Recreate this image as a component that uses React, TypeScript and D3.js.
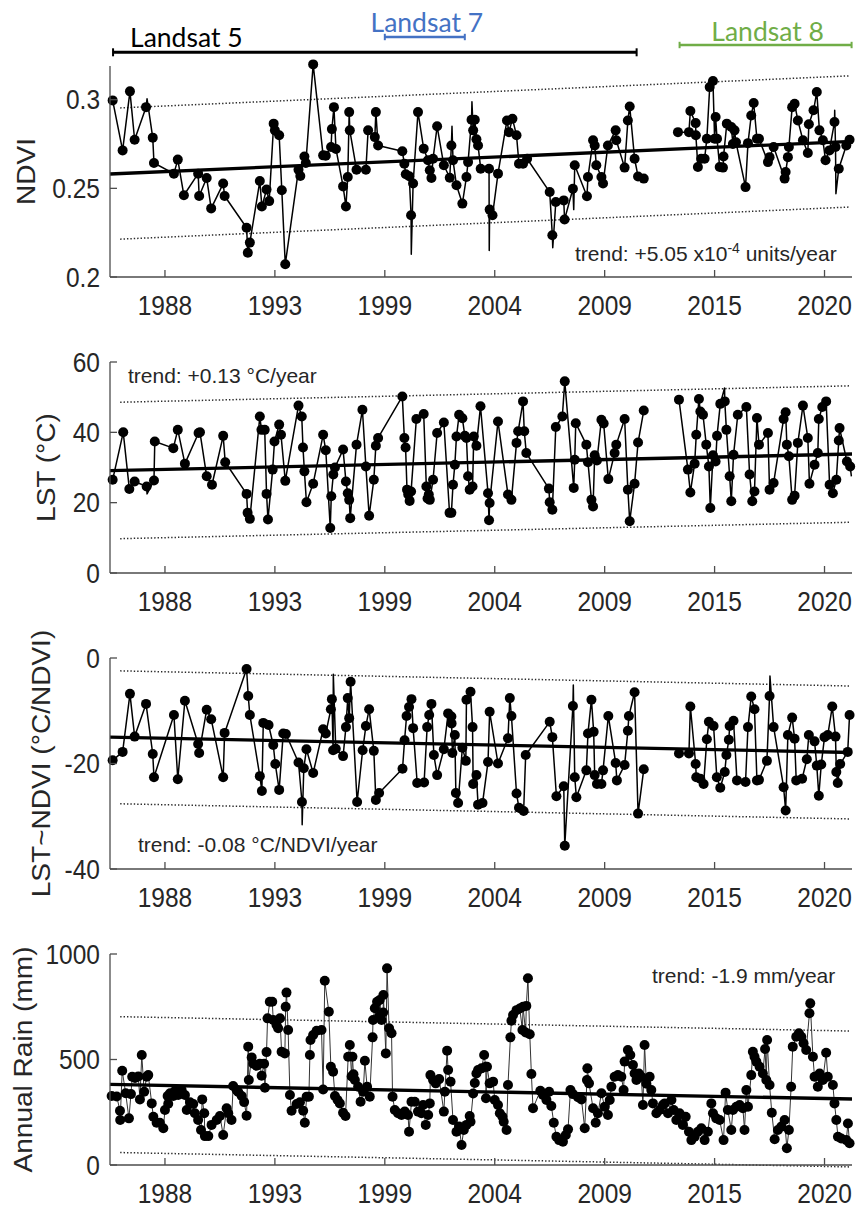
import React from "react";
import * as d3 from "d3";

type Pt = [number, number];

// ---------- shared time axis (decimal years) ----------
const yearDomain: [number, number] = [1985.6, 2022.05];
const yearTicks = [1988.3, 1993.7, 1999.1, 2004.5, 2009.9, 2015.3, 2020.7];
const yearTickLabels = ["1988", "1993", "1999", "2004", "2009", "2015", "2020"];
// Landsat 5 and Landsat 8 records are not joined across this year
const sensorGapYear = 2012.5;

// ---------- sensor coverage ----------
const missionNames = ["Landsat 5", "Landsat 7", "Landsat 8"];
const missionStart = [1985.75, 1999.1, 2013.58];
const missionEnd = [2011.47, 2003.03, 2022.03];
const missionColors = ["#000000", "#4472C4", "#70AD47"];

// ---------- NDVI ----------
const ndviDomain: [number, number] = [0.2, 0.319];
const ndviTicks = [0.2, 0.25, 0.3];
const ndviPoints: Pt[] = [
  [1985.73, 0.2996], [1986.22, 0.2714], [1986.58, 0.3047], [1986.81, 0.2774], [1987.37, 0.2958],
  [1987.7, 0.2786], [1987.76, 0.2643], [1988.74, 0.2583], [1988.93, 0.2662], [1989.23, 0.2461],
  [1989.93, 0.2583], [1989.98, 0.2457], [1990.35, 0.2558], [1990.57, 0.2387], [1991.16, 0.2527],
  [1991.23, 0.2457], [1992.31, 0.2278], [1992.37, 0.2137], [1992.47, 0.2194], [1992.96, 0.2541],
  [1993.06, 0.2398], [1993.29, 0.2493], [1993.42, 0.2428], [1993.64, 0.2865], [1993.7, 0.2827],
  [1993.91, 0.2799], [1994.04, 0.2489], [1994.21, 0.2072], [1994.86, 0.2605], [1994.95, 0.257],
  [1995.15, 0.268], [1995.22, 0.2643], [1995.58, 0.3199], [1996.07, 0.2686], [1996.2, 0.2684],
  [1996.46, 0.2733], [1996.5, 0.2834], [1996.6, 0.2958], [1996.7, 0.2722], [1997.05, 0.2511],
  [1997.19, 0.2398], [1997.28, 0.2564], [1997.35, 0.293], [1997.38, 0.2827], [1997.71, 0.2605],
  [1998.17, 0.2605], [1998.28, 0.2827], [1998.61, 0.2789], [1998.66, 0.293], [1998.77, 0.2742],
  [1999.96, 0.2709], [2000.06, 0.2639], [2000.13, 0.2579], [2000.3, 0.2568], [2000.39, 0.2348],
  [2000.49, 0.2527], [2000.73, 0.293], [2001.01, 0.2724], [2001.22, 0.2658], [2001.31, 0.2602],
  [2001.39, 0.2558], [2001.47, 0.2667], [2001.67, 0.285], [2002.0, 0.263], [2002.29, 0.256],
  [2002.37, 0.2742], [2002.45, 0.2658], [2002.62, 0.2517], [2002.91, 0.2414], [2003.11, 0.2564],
  [2003.19, 0.2648], [2003.36, 0.2887], [2003.44, 0.2827], [2003.52, 0.2887], [2003.6, 0.2777],
  [2003.68, 0.2742], [2003.81, 0.2611], [2004.22, 0.2611], [2004.25, 0.238], [2004.39, 0.2348],
  [2004.66, 0.2583], [2005.1, 0.2883], [2005.2, 0.2817], [2005.37, 0.2893], [2005.57, 0.2799],
  [2005.69, 0.2639], [2005.89, 0.2639], [2006.09, 0.2667], [2007.2, 0.2479], [2007.33, 0.2235],
  [2007.5, 0.2423], [2007.89, 0.2432], [2007.93, 0.2324], [2008.34, 0.2498], [2008.43, 0.263],
  [2009.03, 0.2455], [2009.08, 0.2564], [2009.33, 0.2771], [2009.41, 0.2742], [2009.49, 0.263],
  [2009.74, 0.2564], [2009.82, 0.2527], [2010.06, 0.2742], [2010.44, 0.2827], [2010.47, 0.2771],
  [2010.88, 0.2617], [2011.04, 0.2883], [2011.13, 0.2962], [2011.37, 0.2667], [2011.54, 0.2567],
  [2011.82, 0.2555],
  [2013.5, 0.2817], [2014.04, 0.2817], [2014.11, 0.2936], [2014.37, 0.2868], [2014.38, 0.2799],
  [2014.48, 0.262], [2014.64, 0.2667], [2014.81, 0.2667], [2014.92, 0.278], [2015.06, 0.3071],
  [2015.22, 0.3105], [2015.3, 0.278], [2015.35, 0.2902], [2015.42, 0.278], [2015.55, 0.262],
  [2015.71, 0.2617], [2015.74, 0.268], [2015.9, 0.2865], [2016.12, 0.2846], [2016.2, 0.275],
  [2016.28, 0.2827], [2016.35, 0.276], [2016.82, 0.2507], [2016.94, 0.2755], [2017.1, 0.2911],
  [2017.22, 0.2981], [2017.38, 0.278], [2017.48, 0.278], [2017.92, 0.2648], [2018.0, 0.2676],
  [2018.2, 0.2733], [2018.74, 0.2555], [2018.79, 0.2592], [2018.9, 0.2676], [2018.95, 0.2733],
  [2019.11, 0.2958], [2019.23, 0.2977], [2019.39, 0.2883], [2019.64, 0.2771], [2019.88, 0.2699],
  [2019.93, 0.2861], [2020.16, 0.294], [2020.32, 0.3043], [2020.45, 0.2827], [2020.62, 0.2771],
  [2020.75, 0.2658], [2020.94, 0.2714], [2021.19, 0.2874], [2021.24, 0.2733], [2021.4, 0.2611],
  [2021.77, 0.2742], [2021.93, 0.2774],
];
// line vertices without a marker (short-lived excursions)
const ndviSpikes: Pt[] = [
  [1987.42, 0.3005], [2000.4, 0.2128], [2002.4, 0.285], [2003.38, 0.2988], [2004.23, 0.215],
  [2007.35, 0.2165], [2008.38, 0.238], [2021.2, 0.294], [2021.26, 0.247],
];
const ndviTrend = { start: 0.2581, slope: 5.05e-4, band: 0.037 };

// ---------- LST ----------
const lstDomain: [number, number] = [0, 60];
const lstTicks = [0, 20, 40, 60];
const lstPoints: Pt[] = [
  [1985.73, 26.5], [1986.25, 40.0], [1986.55, 23.9], [1986.81, 26.0], [1987.4, 24.6],
  [1987.76, 26.3], [1987.8, 37.4], [1988.71, 35.5], [1988.93, 40.7], [1989.28, 31.1],
  [1989.95, 39.8], [1990.02, 40.0], [1990.35, 27.5], [1990.61, 25.1], [1991.16, 39.0],
  [1991.26, 31.5], [1992.31, 22.5], [1992.36, 17.1], [1992.47, 15.4], [1992.96, 44.5],
  [1993.04, 40.7], [1993.2, 40.7], [1993.29, 22.5], [1993.36, 15.2], [1993.59, 29.4],
  [1993.68, 37.4], [1993.91, 42.2], [1994.0, 39.3], [1994.21, 26.2], [1994.86, 47.6],
  [1995.02, 44.5], [1995.08, 35.7], [1995.15, 28.9], [1995.25, 20.1], [1995.58, 25.4],
  [1996.07, 39.3], [1996.2, 34.9], [1996.42, 12.8], [1996.47, 21.8], [1996.57, 28.0],
  [1996.65, 30.0], [1997.05, 35.1], [1997.19, 26.0], [1997.28, 22.7], [1997.35, 20.8],
  [1997.4, 15.6], [1997.71, 36.5], [1998.0, 46.4], [1998.17, 30.3], [1998.33, 16.3],
  [1998.56, 26.5], [1998.66, 36.2], [1998.77, 38.4], [1999.96, 50.2], [2000.06, 38.4],
  [2000.12, 35.7], [2000.19, 23.7], [2000.25, 22.3], [2000.32, 20.5], [2000.39, 23.2],
  [2000.65, 43.8], [2001.01, 45.2], [2001.14, 24.6], [2001.2, 21.2], [2001.26, 22.3],
  [2001.31, 20.8], [2001.47, 26.5], [2001.67, 39.8], [2002.0, 42.8], [2002.28, 17.1],
  [2002.37, 17.1], [2002.45, 25.1], [2002.54, 30.8], [2002.62, 38.8], [2002.75, 45.0],
  [2002.91, 44.0], [2003.03, 39.0], [2003.11, 38.4], [2003.19, 27.5], [2003.27, 23.7],
  [2003.41, 24.6], [2003.47, 38.8], [2003.6, 36.2], [2003.8, 47.4], [2004.17, 22.7],
  [2004.22, 15.0], [2004.25, 19.9], [2004.66, 43.1], [2005.15, 22.3], [2005.32, 20.8],
  [2005.57, 37.0], [2005.65, 40.3], [2005.89, 48.8], [2005.95, 40.3], [2006.05, 34.1],
  [2007.16, 24.0], [2007.2, 20.1], [2007.33, 18.0], [2007.5, 41.5], [2007.82, 44.5],
  [2007.94, 54.5], [2008.38, 24.2], [2008.43, 32.2], [2008.48, 42.6], [2009.0, 36.5],
  [2009.08, 31.5], [2009.25, 20.8], [2009.33, 18.9], [2009.41, 33.5], [2009.52, 32.0],
  [2009.74, 43.6], [2009.85, 42.5], [2010.08, 26.7], [2010.39, 34.1], [2010.47, 36.5],
  [2010.88, 43.8], [2011.04, 23.7], [2011.13, 14.7], [2011.37, 25.4], [2011.54, 37.1],
  [2011.82, 46.2],
  [2013.55, 49.3], [2013.99, 29.4], [2014.11, 22.9], [2014.32, 31.1], [2014.4, 39.3],
  [2014.53, 49.5], [2014.6, 45.9], [2014.73, 45.0], [2014.89, 36.5], [2015.02, 30.3],
  [2015.09, 18.5], [2015.22, 33.5], [2015.35, 31.7], [2015.42, 39.0], [2015.58, 48.1],
  [2015.8, 48.8], [2015.88, 40.7], [2016.04, 27.5], [2016.12, 20.4], [2016.23, 33.6],
  [2016.44, 45.0], [2016.86, 47.2], [2017.02, 28.0], [2017.15, 20.4], [2017.26, 23.2],
  [2017.38, 44.1], [2017.48, 36.5], [2017.92, 39.8], [2018.0, 23.7], [2018.2, 25.6],
  [2018.69, 43.8], [2018.79, 45.7], [2018.85, 36.5], [2018.95, 33.2], [2019.11, 20.8],
  [2019.23, 22.0], [2019.39, 37.0], [2019.64, 47.6], [2019.88, 38.4], [2019.96, 25.4],
  [2020.21, 30.8], [2020.37, 34.1], [2020.42, 43.8], [2020.59, 47.2], [2020.78, 48.8],
  [2020.95, 25.1], [2021.11, 22.7], [2021.28, 26.5], [2021.4, 37.7], [2021.44, 41.2],
  [2021.8, 31.7], [2021.96, 30.3],
];
const lstSpikes: Pt[] = [[1987.42, 22.5], [2015.79, 52.6], [2022.02, 27.5]];
const lstTrend = { start: 29.1, slope: 0.13, band: 19.4 };

// ---------- LST~NDVI ----------
const slopeDomain: [number, number] = [-40, 0];
const slopeTicks = [-40, -20, 0];
const slopePoints: Pt[] = [
  [1985.73, -19.4], [1986.22, -17.8], [1986.58, -6.8], [1986.81, -14.9], [1987.37, -8.7],
  [1987.7, -18.2], [1987.76, -22.6], [1988.74, -10.8], [1988.93, -23.0], [1989.28, -8.1],
  [1989.93, -16.3], [1989.98, -18.0], [1990.35, -9.8], [1990.57, -11.6], [1991.16, -22.6],
  [1991.23, -14.2], [1992.31, -2.1], [1992.39, -7.2], [1992.47, -10.8], [1992.96, -22.4],
  [1993.06, -25.2], [1993.13, -12.3], [1993.39, -12.7], [1993.62, -16.5], [1993.72, -20.1],
  [1993.91, -25.0], [1994.11, -14.3], [1994.24, -14.4], [1994.86, -19.8], [1995.03, -27.3],
  [1995.12, -20.9], [1995.25, -17.3], [1995.58, -21.8], [1996.07, -13.5], [1996.2, -14.3],
  [1996.45, -9.7], [1996.5, -7.8], [1996.56, -17.5], [1996.69, -17.2], [1997.05, -18.6],
  [1997.19, -13.1], [1997.28, -7.6], [1997.35, -11.4], [1997.42, -4.5], [1997.74, -27.3],
  [1998.01, -17.5], [1998.17, -12.9], [1998.33, -9.7], [1998.56, -17.6], [1998.66, -26.9],
  [1998.82, -25.6], [1999.97, -21.0], [2000.07, -15.6], [2000.17, -11.0], [2000.29, -9.3],
  [2000.41, -7.8], [2000.49, -13.3], [2000.69, -23.7], [2001.03, -23.6], [2001.18, -13.1],
  [2001.28, -10.8], [2001.39, -8.7], [2001.51, -18.4], [2001.67, -22.2], [2002.0, -17.3],
  [2002.21, -10.5], [2002.37, -11.1], [2002.38, -12.4], [2002.42, -18.0], [2002.54, -14.6],
  [2002.59, -25.6], [2002.7, -27.5], [2002.91, -17.0], [2003.08, -19.5], [2003.11, -7.9],
  [2003.31, -6.4], [2003.41, -13.1], [2003.44, -23.9], [2003.6, -22.2], [2003.68, -27.8],
  [2003.9, -27.5], [2004.17, -19.7], [2004.25, -10.2], [2004.66, -20.0], [2005.15, -15.2],
  [2005.24, -7.6], [2005.32, -11.0], [2005.57, -25.7], [2005.69, -28.4], [2005.92, -29.0],
  [2006.02, -18.4], [2007.2, -12.1], [2007.33, -15.0], [2007.53, -26.2], [2007.89, -24.3],
  [2007.94, -35.6], [2008.34, -9.1], [2008.43, -22.6], [2008.51, -26.4], [2009.0, -21.3],
  [2009.08, -14.3], [2009.25, -7.9], [2009.36, -14.0], [2009.41, -22.2], [2009.52, -23.9],
  [2009.74, -23.9], [2009.82, -21.3], [2010.08, -11.0], [2010.44, -19.9], [2010.5, -23.2],
  [2010.88, -20.3], [2011.04, -13.8], [2011.09, -11.0], [2011.37, -6.5], [2011.54, -29.5],
  [2011.82, -21.1],
  [2013.55, -18.1], [2014.04, -18.1], [2014.11, -9.2], [2014.37, -20.1], [2014.4, -22.6],
  [2014.6, -22.9], [2014.76, -23.9], [2014.92, -15.4], [2015.02, -12.1], [2015.25, -12.9],
  [2015.41, -22.6], [2015.58, -24.6], [2015.8, -21.6], [2015.88, -18.4], [2016.0, -15.5],
  [2016.04, -12.9], [2016.23, -11.9], [2016.4, -23.2], [2016.82, -23.5], [2016.94, -13.1],
  [2017.1, -7.3], [2017.26, -9.7], [2017.38, -23.2], [2017.48, -23.1], [2017.87, -19.5],
  [2018.0, -7.2], [2018.2, -13.1], [2018.69, -24.5], [2018.79, -28.9], [2018.9, -14.6],
  [2019.11, -11.3], [2019.23, -15.3], [2019.31, -23.2], [2019.6, -22.9], [2019.83, -19.2],
  [2019.93, -14.6], [2020.21, -15.8], [2020.32, -20.4], [2020.42, -26.1], [2020.54, -20.2],
  [2020.7, -15.0], [2020.86, -14.6], [2021.08, -9.2], [2021.24, -14.9], [2021.28, -21.6],
  [2021.35, -23.7], [2021.47, -20.1], [2021.84, -17.8], [2021.93, -10.8],
];
const slopeSpikes: Pt[] = [[1995.04, -31.6], [1996.57, -3.1], [2008.36, -5.1], [2018.02, -3.4]];
const slopeTrend = { start: -15.0, slope: -0.08, band: 12.6 };

// ---------- annual rainfall ----------
const rainDomain: [number, number] = [0, 1000];
const rainTicks = [0, 500, 1000];
const rainPoints: Pt[] = [
  [1985.68, 327], [1985.93, 325], [1986.09, 257], [1986.1, 213], [1986.2, 447], [1986.37, 340],
  [1986.53, 221], [1986.63, 336], [1986.69, 418], [1986.83, 412], [1986.99, 420], [1987.07, 311],
  [1987.16, 521], [1987.28, 347], [1987.4, 418], [1987.48, 426], [1987.65, 292], [1987.73, 229],
  [1987.89, 200], [1988.05, 200], [1988.22, 174], [1988.3, 261], [1988.43, 327], [1988.46, 290],
  [1988.55, 340], [1988.71, 327], [1988.79, 350], [1988.95, 332], [1989.12, 355], [1989.28, 332],
  [1989.37, 261], [1989.53, 297], [1989.69, 289], [1989.77, 245], [1989.93, 213], [1990.07, 166],
  [1990.13, 311], [1990.23, 245], [1990.26, 137], [1990.43, 137], [1990.59, 190], [1990.84, 213],
  [1991.0, 232], [1991.16, 142], [1991.33, 269], [1991.41, 245], [1991.57, 213], [1991.65, 374],
  [1991.82, 355], [1991.9, 346], [1992.07, 327], [1992.19, 298], [1992.31, 234], [1992.39, 561],
  [1992.42, 403], [1992.56, 510], [1992.64, 480], [1992.8, 470], [1992.96, 480], [1993.05, 423],
  [1993.17, 480], [1993.21, 366], [1993.29, 535], [1993.34, 695], [1993.45, 774], [1993.57, 774],
  [1993.62, 687], [1993.78, 664], [1993.86, 648], [1993.95, 695], [1994.03, 537], [1994.19, 529],
  [1994.23, 750], [1994.27, 817], [1994.35, 640], [1994.44, 332], [1994.52, 257], [1994.77, 289],
  [1994.93, 297], [1995.09, 257], [1995.17, 200], [1995.26, 324], [1995.37, 324], [1995.42, 521],
  [1995.45, 592], [1995.58, 616], [1995.75, 636], [1995.99, 640], [1996.07, 358], [1996.15, 873],
  [1996.35, 726], [1996.45, 466], [1996.56, 442], [1996.65, 327], [1996.78, 308], [1996.89, 292],
  [1997.05, 248], [1997.17, 232], [1997.3, 513], [1997.38, 569], [1997.47, 420], [1997.51, 513],
  [1997.56, 430], [1997.63, 403], [1997.79, 371], [1997.91, 300], [1998.04, 347], [1998.12, 494],
  [1998.23, 371], [1998.36, 324], [1998.5, 605], [1998.52, 687], [1998.61, 743], [1998.72, 774],
  [1998.82, 705], [1998.85, 782], [1998.94, 687], [1999.02, 723], [1999.03, 806], [1999.15, 529],
  [1999.21, 932], [1999.31, 648], [1999.43, 624], [1999.48, 324], [1999.59, 261], [1999.75, 245],
  [1999.92, 237], [2000.08, 253], [2000.24, 237], [2000.29, 158], [2000.41, 300], [2000.57, 300],
  [2000.73, 253], [2000.9, 245], [2000.98, 284], [2001.11, 190], [2001.23, 237], [2001.31, 292],
  [2001.34, 426], [2001.47, 403], [2001.6, 387], [2001.77, 407], [2002.0, 253], [2002.05, 347],
  [2002.16, 542], [2002.21, 450], [2002.33, 395], [2002.45, 213], [2002.62, 158], [2002.75, 182],
  [2002.87, 95], [2002.98, 166], [2003.11, 190], [2003.27, 232], [2003.31, 205], [2003.44, 339],
  [2003.52, 389], [2003.6, 434], [2003.68, 450], [2003.85, 458], [2003.98, 521], [2004.06, 466],
  [2004.07, 316], [2004.12, 466], [2004.25, 387], [2004.42, 395], [2004.5, 308], [2004.66, 284],
  [2004.75, 245], [2004.88, 229], [2004.94, 205], [2005.08, 166], [2005.15, 379], [2005.27, 605],
  [2005.32, 684], [2005.4, 711], [2005.57, 734], [2005.73, 742], [2005.86, 640], [2005.89, 750],
  [2006.02, 628], [2006.05, 754], [2006.13, 885], [2006.22, 620], [2006.3, 431], [2006.38, 269],
  [2006.74, 352], [2006.87, 332], [2007.04, 308], [2007.17, 347], [2007.28, 280], [2007.4, 200],
  [2007.53, 134], [2007.66, 118], [2007.85, 110], [2007.99, 142], [2008.1, 169], [2008.22, 355],
  [2008.34, 336], [2008.59, 321], [2008.76, 311], [2008.92, 174], [2009.03, 403], [2009.05, 458],
  [2009.13, 387], [2009.33, 269], [2009.46, 200], [2009.57, 245], [2009.74, 340], [2009.9, 276],
  [2010.06, 237], [2010.15, 308], [2010.23, 371], [2010.39, 418], [2010.55, 426], [2010.72, 418],
  [2010.83, 355], [2010.88, 490], [2011.04, 545], [2011.16, 521], [2011.29, 474], [2011.37, 434],
  [2011.46, 403], [2011.58, 434], [2011.7, 418], [2011.78, 284], [2011.86, 569], [2011.95, 385],
  [2012.11, 418], [2012.19, 355], [2012.27, 292], [2012.44, 245], [2012.6, 261], [2012.76, 284],
  [2012.85, 292], [2013.01, 245], [2013.18, 308], [2013.29, 261], [2013.42, 213], [2013.58, 245],
  [2013.74, 190], [2013.88, 229], [2014.04, 158], [2014.16, 118], [2014.32, 134], [2014.48, 158],
  [2014.65, 174], [2014.81, 118], [2014.97, 158], [2015.14, 292], [2015.22, 245], [2015.38, 221],
  [2015.55, 213], [2015.74, 118], [2015.84, 343], [2015.95, 261], [2016.12, 166], [2016.2, 261],
  [2016.37, 276], [2016.53, 284], [2016.69, 269], [2016.77, 166], [2016.86, 355], [2016.94, 276],
  [2017.1, 426], [2017.18, 537], [2017.26, 513], [2017.35, 490], [2017.51, 466], [2017.67, 434],
  [2017.78, 550], [2017.84, 403], [2017.88, 592], [2018.0, 379], [2018.11, 248], [2018.25, 122],
  [2018.41, 166], [2018.58, 182], [2018.74, 213], [2018.85, 79], [2018.95, 166], [2019.06, 371],
  [2019.14, 561], [2019.31, 608], [2019.44, 624], [2019.56, 608], [2019.67, 577], [2019.8, 545],
  [2019.96, 719], [2020.0, 766], [2020.13, 513], [2020.21, 418], [2020.37, 371], [2020.46, 434],
  [2020.62, 403], [2020.78, 532], [2020.86, 418], [2021.11, 379], [2021.19, 292], [2021.28, 213],
  [2021.36, 134], [2021.52, 126], [2021.77, 118], [2021.85, 197], [2021.93, 103],
];
const rainSpikes: Pt[] = [];
const rainTrend = { start: 382, slope: -1.9, band: 322 };

// ---------- drawing ----------
const W = 856;
const H = 1207;
const LEFT = 110;
const RIGHT = 852;
const PANEL_H = 211;
const FONT = "'Liberation Sans', Arial, Helvetica, sans-serif";
const INK = "#262626";
const AXIS = "#4d4d4d";
// axis text in this figure is slightly taller than wide
const TEXT_STRETCH = 1.1;

type Seg = { t: string; sup?: boolean };

type PanelSpec = {
  label: string;
  domain: [number, number];
  ticks: number[];
  points: Pt[];
  spikes: Pt[];
  trend: { start: number; slope: number; band: number };
  trendText: Seg[];
  splitAtGap: boolean;
  lineColor: string;
  lineWidth: number;
};

const panels: PanelSpec[] = [
  {
    label: "NDVI", domain: ndviDomain, ticks: ndviTicks, points: ndviPoints, spikes: ndviSpikes,
    trend: ndviTrend, splitAtGap: true, lineColor: "#000", lineWidth: 1.5,
    trendText: [{ t: "trend: +5.05 x10" }, { t: "-4", sup: true }, { t: " units/year" }],
  },
  {
    label: "LST (°C)", domain: lstDomain, ticks: lstTicks, points: lstPoints, spikes: lstSpikes,
    trend: lstTrend, splitAtGap: true, lineColor: "#000", lineWidth: 1.5,
    trendText: [{ t: "trend: +0.13 °C/year" }],
  },
  {
    label: "LST~NDVI (°C/NDVI)", domain: slopeDomain, ticks: slopeTicks, points: slopePoints,
    spikes: slopeSpikes, trend: slopeTrend, splitAtGap: true, lineColor: "#000", lineWidth: 1.5,
    trendText: [{ t: "trend: -0.08 °C/NDVI/year" }],
  },
  {
    label: "Annual Rain (mm)", domain: rainDomain, ticks: rainTicks, points: rainPoints,
    spikes: rainSpikes, trend: rainTrend, splitAtGap: false, lineColor: "#333", lineWidth: 1,
    trendText: [{ t: "trend: -1.9 mm/year" }],
  },
];

// per-panel placement
const panelBottoms = [277, 573, 869, 1165];
const yLabelX = [35, 55, 50, 32];
const trendTextPos = [
  { x: 575, y: 261 },
  { x: 128, y: 383 },
  { x: 138, y: 852 },
  { x: 652, y: 983 },
];

const x = d3.scaleLinear().domain(yearDomain).range([LEFT, RIGHT]);

function Panel({ spec, index }: { spec: PanelSpec; index: number }) {
  const bottom = panelBottoms[index];
  const top = bottom - PANEL_H;
  const y = d3.scaleLinear().domain(spec.domain).range([bottom, top]);

  const merged = [...spec.points, ...spec.spikes].sort((a, b) => a[0] - b[0]);
  const segments = spec.splitAtGap
    ? [merged.filter((d) => d[0] < sensorGapYear), merged.filter((d) => d[0] >= sensorGapYear)]
    : [merged];
  const line = d3.line<Pt>().x((d) => x(d[0])).y((d) => y(d[1]));

  const trendAt = (t: number) => spec.trend.start + spec.trend.slope * (t - yearDomain[0]);
  const trendLine = d3
    .line<number>()
    .x((t) => x(t))
    .y((t) => y(trendAt(t)));
  const bandLine = (off: number) =>
    d3
      .line<number>()
      .x((t) => x(t))
      .y((t) => y(trendAt(t) + off));
  const bandSpan = [1986.1, 2021.95];

  const tp = trendTextPos[index];

  return (
    <g>
      {/* +/- band around the trend */}
      {[spec.trend.band, -spec.trend.band].map((off, i) => (
        <path
          key={i}
          d={bandLine(off)(bandSpan) || ""}
          fill="none"
          stroke="#2a2a2a"
          strokeWidth={1.5}
          strokeDasharray="1.4 2"
        />
      ))}

      {/* series */}
      {segments.map((seg, i) => (
        <path
          key={i}
          d={line(seg) || ""}
          fill="none"
          stroke={spec.lineColor}
          strokeWidth={spec.lineWidth}
          strokeLinejoin="round"
        />
      ))}
      {spec.points.map((d, i) => (
        <circle key={i} cx={x(d[0])} cy={y(d[1])} r={5} fill="#000" />
      ))}

      {/* linear trend */}
      <path d={trendLine(yearDomain) || ""} fill="none" stroke="#000" strokeWidth={3.3} />

      {/* axes */}
      <line x1={LEFT} x2={LEFT} y1={top} y2={bottom} stroke={AXIS} strokeWidth={1.3} />
      <line x1={LEFT} x2={RIGHT} y1={bottom} y2={bottom} stroke={AXIS} strokeWidth={1.3} />
      {spec.ticks.map((v) => (
        <g key={v}>
          <line x1={LEFT} x2={LEFT + 7} y1={y(v)} y2={y(v)} stroke={AXIS} strokeWidth={1.3} />
          <text
            transform={`translate(100,${y(v)}) scale(1,${TEXT_STRETCH})`}
            dy="0.36em"
            textAnchor="end"
            fontFamily={FONT}
            fontSize={24.5}
            fill={INK}
          >
            {String(v)}
          </text>
        </g>
      ))}
      {yearTicks.map((t, i) => (
        <g key={t}>
          <line x1={x(t)} x2={x(t)} y1={bottom} y2={bottom - 7} stroke={AXIS} strokeWidth={1.3} />
          <text
            transform={`translate(${x(t)},${bottom + 38}) scale(1,${TEXT_STRETCH})`}
            textAnchor="middle"
            fontFamily={FONT}
            fontSize={24.5}
            fill={INK}
          >
            {yearTickLabels[i]}
          </text>
        </g>
      ))}

      {/* axis title */}
      <text
        transform={`translate(${yLabelX[index]},${(top + bottom) / 2}) scale(1,${TEXT_STRETCH}) rotate(-90)`}
        textAnchor="middle"
        fontFamily={FONT}
        fontSize={25.5}
        fill={INK}
      >
        {spec.label}
      </text>

      {/* trend annotation */}
      <text x={tp.x} y={tp.y} fontFamily={FONT} fontSize={21} fill={INK}>
        {spec.trendText.map((s, i) =>
          s.sup ? (
            <tspan key={i} dy={-8} fontSize={14}>
              {s.t}
            </tspan>
          ) : (
            <tspan key={i} dy={i > 0 && spec.trendText[i - 1].sup ? 8 : 0}>
              {s.t}
            </tspan>
          )
        )}
      </text>
    </g>
  );
}

// coverage bars above the first panel
const missionBarY = [52.3, 37, 45];
const missionTextY = [46.5, 31.5, 40.5];

function Missions() {
  return (
    <g>
      {missionNames.map((name, i) => {
        const x0 = x(missionStart[i]);
        const x1 = x(missionEnd[i]);
        const by = missionBarY[i];
        const cap = i === 0 ? 4 : 3.2;
        const labelX = i === 0 ? x0 + 17 : (x0 + x1) / 2 + 2;
        return (
          <g key={name} stroke={missionColors[i]}>
            <line x1={x0} x2={x1} y1={by} y2={by} strokeWidth={i === 0 ? 3 : 2.6} />
            <line x1={x0} x2={x0} y1={by - cap} y2={by + cap} strokeWidth={2} />
            <line x1={x1} x2={x1} y1={by - cap} y2={by + cap} strokeWidth={2} />
            <text
              x={labelX}
              y={missionTextY[i]}
              textAnchor={i === 0 ? "start" : "middle"}
              fontFamily="Lato, 'Open Sans', sans-serif"
              fontSize={26.5}
              fill={missionColors[i]}
              stroke="none"
            >
              {name}
            </text>
          </g>
        );
      })}
    </g>
  );
}

export default function App() {
  return (
    <svg
      width={W}
      height={H}
      viewBox={`0 0 ${W} ${H}`}
      style={{ position: "absolute", left: 0, top: 0, background: "#fff" }}
    >
      <rect width={W} height={H} fill="#fff" />
      <Missions />
      {panels.map((p, i) => (
        <Panel key={p.label} spec={p} index={i} />
      ))}
    </svg>
  );
}
